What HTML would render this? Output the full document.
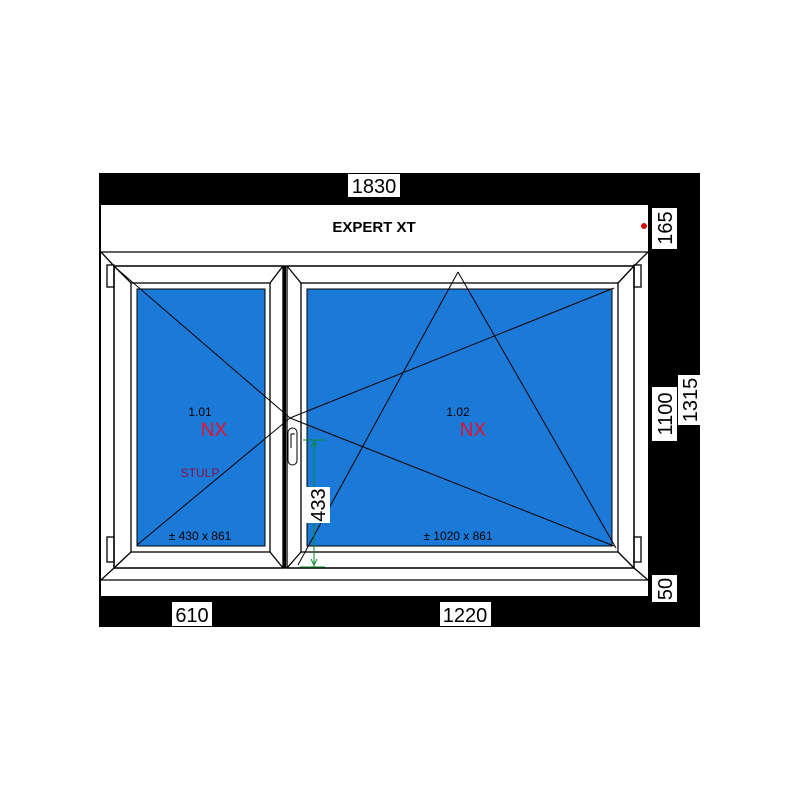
<!DOCTYPE html>
<html><head><meta charset="utf-8"><style>
html,body{margin:0;padding:0;background:#fff;width:800px;height:800px;overflow:hidden}
svg{display:block;font-family:"Liberation Sans",Arial,sans-serif}
</style></head><body>
<svg width="800" height="800" viewBox="0 0 800 800" xmlns="http://www.w3.org/2000/svg">
<rect x="99" y="173" width="601" height="454" fill="#000"/>
<rect x="101" y="205" width="547" height="391" fill="#fff"/>
<g fill="none" stroke="#000" stroke-width="1.3">
<!-- roller box -->
<line x1="101" y1="252" x2="648" y2="252"/>
<line x1="101" y1="580" x2="648" y2="580"/>
<!-- frame inner -->
<rect x="114" y="266" width="520" height="302"/>
<line x1="101" y1="252" x2="114" y2="266"/>
<line x1="648" y1="252" x2="634" y2="266"/>
<line x1="101" y1="580" x2="114" y2="568"/>
<line x1="648" y1="580" x2="634" y2="568"/>
<!-- left sash -->
<rect x="114" y="266" width="169" height="302"/>
<rect x="131" y="283" width="139" height="269"/>
<line x1="114" y1="266" x2="131" y2="283"/><line x1="283" y1="266" x2="270" y2="283"/>
<line x1="114" y1="568" x2="131" y2="552"/><line x1="283" y1="568" x2="270" y2="552"/>
<!-- right sash -->
<rect x="287" y="266" width="347" height="302"/>
<rect x="301" y="283" width="317" height="269"/>
<line x1="287" y1="266" x2="301" y2="283"/><line x1="634" y1="266" x2="618" y2="283"/>
<line x1="287" y1="568" x2="301" y2="552"/><line x1="634" y1="568" x2="618" y2="552"/>
<!-- hinges -->
<rect x="107" y="265" width="7" height="22"/>
<rect x="107" y="537" width="7" height="25"/>
<rect x="634" y="265" width="7" height="22"/>
<rect x="634" y="537" width="7" height="25"/>
</g>
<rect x="283" y="266" width="3" height="302" fill="#000"/>
<rect x="137" y="289" width="128" height="257" fill="#1b79d8" stroke="#000" stroke-width="1"/>
<rect x="307" y="289" width="305" height="257" fill="#1b79d8" stroke="#000" stroke-width="1"/>
<g stroke="#000" stroke-width="1" fill="none">
<line x1="116" y1="268" x2="290" y2="418"/>
<line x1="137" y1="545" x2="290" y2="418"/>
<line x1="614" y1="288" x2="290" y2="418"/>
<line x1="614" y1="546" x2="290" y2="418"/>
<line x1="298" y1="565" x2="458" y2="272"/>
<line x1="458" y1="272" x2="616" y2="548"/>
</g>
<!-- handle -->
<rect x="288" y="428" width="9" height="37" rx="4.5" fill="#fff" stroke="#000" stroke-width="1"/>
<path d="M291 448 V434 H295" fill="none" stroke="#000" stroke-width="1"/>
<!-- green dim -->
<g stroke="#0a8a2a" stroke-width="1" fill="none">
<line x1="303" y1="440" x2="325" y2="440"/>
<line x1="314" y1="440" x2="314" y2="567"/>
<line x1="300" y1="567" x2="325" y2="567"/>
<path d="M311 447 L314 442 L317 447 M311 559 L314 565 L317 559"/>
</g>
<rect x="303" y="487" width="27" height="36" fill="#fff"/>
<text transform="translate(325,505) rotate(-90)" font-size="20" text-anchor="middle">433</text>
<!-- labels -->
<text x="374" y="232" font-size="15" font-weight="bold" text-anchor="middle">EXPERT XT</text>
<circle cx="644" cy="226" r="3" fill="#d01010"/>
<text x="200" y="416" font-size="12" text-anchor="middle">1.01</text>
<text x="214" y="436" font-size="19" fill="#e8102a" text-anchor="middle">NX</text>
<text x="200" y="477" font-size="12" fill="#8a1040" text-anchor="middle">STULP</text>
<text x="200" y="540" font-size="12" text-anchor="middle">± 430 x 861</text>
<text x="458" y="416" font-size="12" text-anchor="middle">1.02</text>
<text x="473" y="436" font-size="19" fill="#e8102a" text-anchor="middle">NX</text>
<text x="458" y="540" font-size="12" text-anchor="middle">± 1020 x 861</text>
<!-- dimension boxes -->
<rect x="348" y="174" width="52" height="23" fill="#fff"/>
<text x="374" y="193" font-size="20" text-anchor="middle">1830</text>
<rect x="172" y="602" width="40" height="24" fill="#fff"/>
<text x="192" y="622" font-size="20" text-anchor="middle">610</text>
<rect x="440" y="602" width="51" height="24" fill="#fff"/>
<text x="465" y="622" font-size="20" text-anchor="middle">1220</text>
<rect x="652" y="208" width="25" height="41" fill="#fff"/>
<text transform="translate(672,228) rotate(-90)" font-size="20" text-anchor="middle">165</text>
<rect x="652" y="387" width="25" height="54" fill="#fff"/>
<text transform="translate(672,414) rotate(-90)" font-size="20" text-anchor="middle">1100</text>
<rect x="678" y="375" width="22" height="50" fill="#fff"/>
<text transform="translate(697,400) rotate(-90)" font-size="20" text-anchor="middle">1315</text>
<rect x="652" y="575" width="25" height="27" fill="#fff"/>
<text transform="translate(672,589) rotate(-90)" font-size="20" text-anchor="middle">50</text>
</svg>
</body></html>
